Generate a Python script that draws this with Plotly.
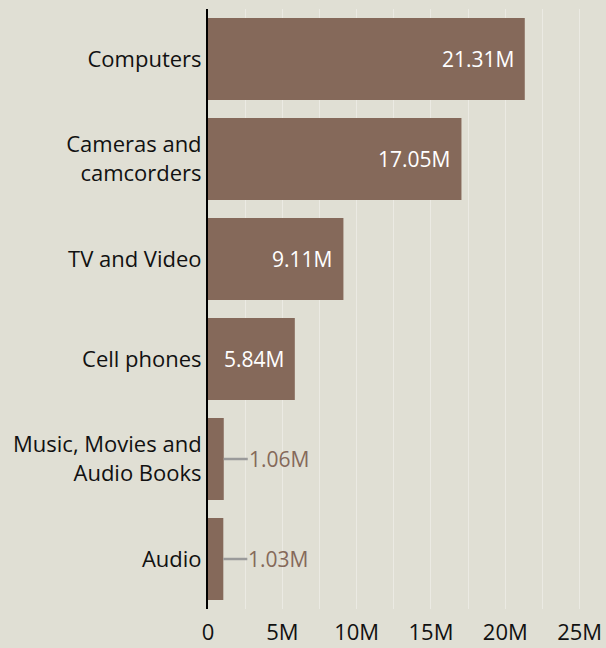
import plotly.graph_objects as go

categories = ["Computers", "Cameras and<br>camcorders", "TV and Video", "Cell phones",
              "Music, Movies and<br>Audio Books", "Audio"]
values = [21.31e6, 17.05e6, 9.11e6, 5.84e6, 1.06e6, 1.03e6]
labels = ["21.31M", "17.05M", "9.11M", "5.84M", "1.06M", "1.03M"]
inside = [True, True, True, True, False, False]

BAR = "#85695a"
BG = "#e0dfd4"
FONT = "Open Sans"

fig = go.Figure()
fig.add_trace(go.Bar(
    x=values, y=categories, orientation="h",
    marker=dict(color=BAR, line=dict(width=0)),
    hoverinfo="skip",
))

for v, c, lab, ins in zip(values, categories, labels, inside):
    if ins:
        fig.add_annotation(x=v, y=c, text=lab, showarrow=False, xanchor="right",
                           xshift=-9, font=dict(color="white", size=21, family=FONT))
    else:
        fig.add_annotation(x=v, y=c, text=lab, showarrow=True, arrowhead=0,
                           arrowwidth=2.5, arrowcolor="#9a9a9a", ax=24, ay=0,
                           xanchor="left", standoff=0, borderpad=0,
                           font=dict(color=BAR, size=21, family=FONT))

fig.update_layout(
    width=606, height=648,
    paper_bgcolor=BG, plot_bgcolor=BG,
    margin=dict(l=208, r=13, t=9, b=39, autoexpand=False),
    bargap=0.18,
    showlegend=False,
    font=dict(family=FONT, size=22, color="#111111"),
    xaxis=dict(range=[0, 25.9e6], tickformat="~s", showline=False, zeroline=False,
               ticks="", showgrid=True, gridcolor="rgba(255,255,255,0.35)", gridwidth=1,
               dtick=5e6, tick0=0, ticklabelstandoff=8, automargin=False,
               minor=dict(dtick=2.5e6, showgrid=True, gridcolor="rgba(255,255,255,0.35)", gridwidth=1),
               tickfont=dict(size=22, color="#111111")),
    yaxis=dict(autorange="reversed", showline=True, linecolor="black", linewidth=2,
               ticks="", showgrid=False, zeroline=False, automargin=False,
               tickfont=dict(size=22, color="#111111")),
)

fig.write_html("out.html", config={"displayModeBar": False, "staticPlot": True},
               post_script="document.body.style.margin='0';document.body.style.background='%s';" % BG)
